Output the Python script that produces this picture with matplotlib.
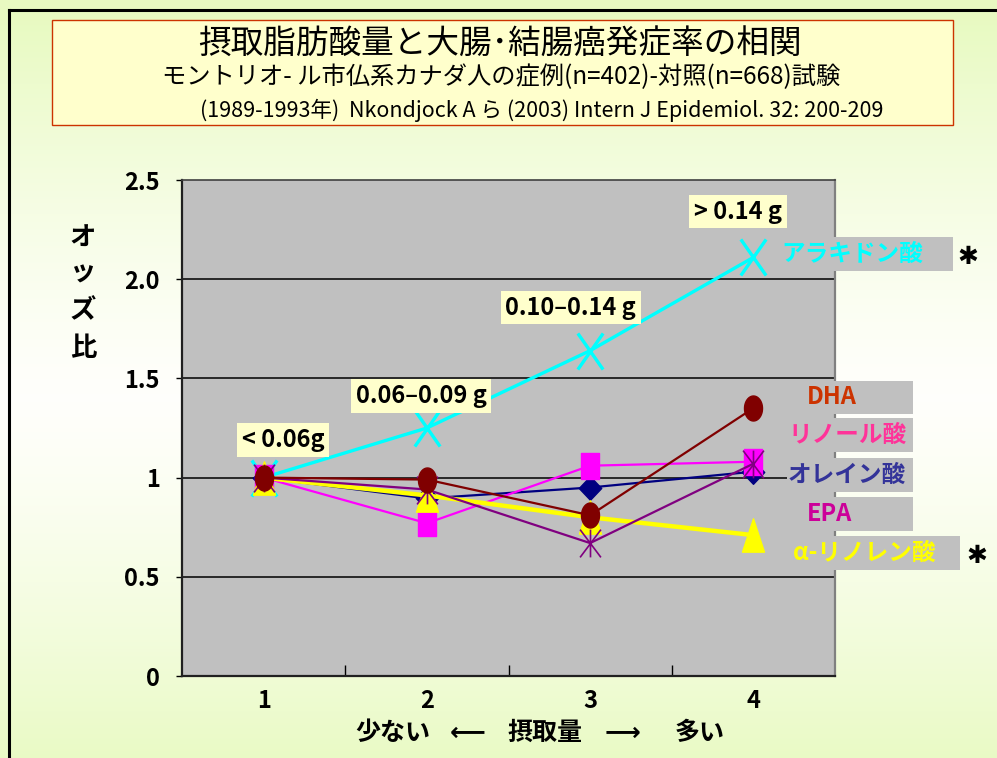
import matplotlib
matplotlib.use('Agg')
import matplotlib.pyplot as plt
import numpy as np
from matplotlib.patches import Rectangle
from matplotlib.path import Path

plt.rcParams['font.family'] = ['Noto Sans CJK JP', 'DejaVu Sans']
NUM_FONT = ['Liberation Sans Narrow', 'Noto Sans CJK JP', 'DejaVu Sans']

# data
levels = [1, 2, 3, 4]
level_ranges = ['< 0.06g', '0.06\u20130.09 g', '0.10\u20130.14 g', '> 0.14 g']
arachidonic = [1.0, 1.25, 1.64, 2.11]
dha = [1.0, 0.99, 0.81, 1.35]
linoleic = [1.0, 0.77, 1.06, 1.08]
oleic = [1.0, 0.895, 0.95, 1.03]
epa = [1.0, 0.94, 0.67, 1.07]
alpha_linolenic = [1.0, 0.91, 0.80, 0.71]
yticks = [0, 0.5, 1, 1.5, 2.0, 2.5]
ytick_labels = ['0', '0.5', '1', '1.5', '2.0', '2.5']

title = '摂取脂肪酸量と大腸･結腸癌発症率の相関'
subtitle = 'モントリオ- ル市仏系カナダ人の症例(n=402)-対照(n=668)試験'
source = '(1989-1993年)  Nkondjock A ら (2003) Intern J Epidemiol. 32: 200-209'

W, H = 997, 758
def fx(x):
    return x / W
def fy(y):
    return 1 - y / H

fig = plt.figure(figsize=(W / 100, H / 100), dpi=100)

# slide background: green at top/bottom, whitish in the middle
bg = fig.add_axes([0, 0, 1, 1], zorder=-10)
t = np.abs(np.linspace(-1, 1, 400) - 0.05)
t = np.clip(t, 0, 1) ** 1.3
green = np.array([0.91, 0.98, 0.76])
white = np.array([1.0, 1.0, 0.985])
grad = white[None, :] * (1 - t[:, None]) + green[None, :] * t[:, None]
bg.imshow(grad[:, None, :], aspect='auto', extent=[0, 1, 0, 1])
bg.plot([fx(9), fx(9)], [0, fy(10)], color='black', lw=2.2)
bg.plot([fx(9), 1], [fy(10), fy(10)], color='black', lw=2.2)
bg.set_xlim(0, 1)
bg.set_ylim(0, 1)
bg.axis('off')

# title box
fig.patches.append(Rectangle((fx(52), fy(125)), fx(953) - fx(52), fy(20) - fy(125),
                             transform=fig.transFigure, facecolor='#FFFFCC',
                             edgecolor='#CC3300', lw=1, zorder=1))
fig.text(fx(500), fy(45), title, ha='center', va='center', fontsize=23.5)
fig.text(fx(501), fy(77), subtitle, ha='center', va='center', fontsize=17.5)
fig.text(fx(542), fy(110), source, ha='center', va='center', fontsize=15.5)

ax = fig.add_axes([fx(182), fy(676), fx(835) - fx(182), fy(180) - fy(676)])
ax.set_facecolor('#C0C0C0')
ax.set_xlim(0.5, 4.5)
ax.set_ylim(0, 2.5)
for g in [0.5, 1.0, 1.5, 2.0]:
    ax.axhline(g, color='black', lw=1.1, zorder=1)
for s in ['left', 'bottom']:
    ax.spines[s].set_color('#202020')
    ax.spines[s].set_linewidth(1.6)
ax.spines['top'].set_color('#404040')
ax.spines['top'].set_linewidth(1.2)
ax.spines['right'].set_color('#808080')
ax.spines['right'].set_linewidth(1.6)

ax.set_yticks(yticks)
ax.set_yticklabels(ytick_labels, fontweight='bold', fontsize=17, family=NUM_FONT)
ax.set_xticks(levels)
ax.set_xticklabels([str(v) for v in levels], fontweight='bold', fontsize=17, family=NUM_FONT)
ax.set_xticks([1.5, 2.5, 3.5], minor=True)
ax.tick_params(axis='y', direction='out', length=4, width=1, pad=12)
ax.tick_params(axis='x', which='major', length=0, pad=9)
ax.tick_params(axis='x', which='minor', direction='in', length=8, width=1)

# custom marker shapes
th = np.linspace(0, 2 * np.pi, 60)
ellipse = Path(np.column_stack([0.72 * np.cos(th), np.sin(th)]), closed=True)
tall_square = Path([(-0.7, -1), (0.7, -1), (0.7, 1), (-0.7, 1), (-0.7, -1)], closed=True)
diamond = Path([(0, -1), (0.95, 0), (0, 1), (-0.95, 0), (0, -1)], closed=True)
triangle = Path([(0, 1), (0.66, -1), (-0.66, -1), (0, 1)], closed=True)
tall_x = Path([(-0.7, -1), (0.7, 1), (-0.7, 1), (0.7, -1)],
              [Path.MOVETO, Path.LINETO, Path.MOVETO, Path.LINETO])
star = Path([(0, -1), (0, 1), (-0.75, -1), (0.75, 1), (-0.75, 1), (0.75, -1)],
            [Path.MOVETO, Path.LINETO, Path.MOVETO, Path.LINETO, Path.MOVETO, Path.LINETO])

ax.plot(levels, arachidonic, color='#00FFFF', lw=2.4, marker=tall_x, markersize=26,
        markeredgewidth=2.4, markerfacecolor='none', zorder=3)
ax.plot(levels, oleic, color='#000080', lw=1.6, marker=diamond, markersize=17,
        markerfacecolor='#000080', markeredgecolor='#000080', zorder=4)
ax.plot(levels, linoleic, color='#FF00FF', lw=1.6, marker=tall_square, markersize=19,
        markerfacecolor='#FF00FF', markeredgecolor='#FF00FF', zorder=5)
ax.plot(levels, alpha_linolenic, color='#FFFF00', lw=3.2, marker=triangle, markersize=24,
        markerfacecolor='#FFFF00', markeredgecolor='#FFFF00', zorder=6)
ax.plot(levels, epa, color='#800080', lw=1.6, marker=star, markersize=20,
        markeredgewidth=1.2, markeredgecolor='#800080', markerfacecolor='none', zorder=7)
ax.plot(levels, dha, color='#800000', lw=1.6, marker=ellipse, markersize=18,
        markerfacecolor='#800000', markeredgecolor='#800000', zorder=8)

# intake range labels above the arachidonic acid points
offsets = [(14, 27), (-4, 23), (-14, 31), (-11, 33)]
for lv, val, txt, off in zip(levels, arachidonic, level_ranges, offsets):
    ax.annotate(txt, xy=(lv, val), xytext=off, textcoords='offset points',
                ha='center', va='center', fontsize=17, fontweight='bold',
                family=NUM_FONT, zorder=10,
                bbox=dict(boxstyle='square,pad=0.2', facecolor='#FFFFCC', edgecolor='none'))

# series labels with grey boxes on the right
series_labels = [
    ('アラキドン酸', '#00FFFF', 770, 953, 237, 271, 781),
    ('DHA', '#CC3300', 787, 913, 381, 414, 807),
    ('リノール酸', '#FF3399', 787, 913, 418, 452, 788),
    ('オレイン酸', '#333399', 787, 913, 458, 492, 788),
    ('EPA', '#CC0099', 787, 913, 497, 531, 807),
    ('α-リノレン酸', '#FFFF00', 787, 960, 536, 570, 793),
]
for txt, col, x0, x1, y0, y1, tx in series_labels:
    fig.patches.append(Rectangle((fx(x0), fy(y1)), fx(x1) - fx(x0), fy(y0) - fy(y1),
                                 transform=fig.transFigure, facecolor='#C0C0C0',
                                 edgecolor='none', zorder=2))
    fig.text(fx(tx), fy((y0 + y1) / 2), txt, color=col, ha='left', va='center',
             fontsize=17, fontweight='bold', zorder=3)
fig.text(fx(968), fy(257), '✱', family='DejaVu Sans', ha='center', va='center', fontsize=18)
fig.text(fx(977), fy(556), '✱', family='DejaVu Sans', ha='center', va='center', fontsize=18)

# y label, stacked characters
for ch, yy in zip('オッズ比', [237, 273, 311, 349]):
    fig.text(fx(83), fy(yy), ch, ha='center', va='center', fontsize=19, fontweight='bold')

# x label
for part, xx in zip(['少ない', '\u27f5', '摂取量', '\u27f6', '多い'], [393, 468, 545, 622, 700]):
    fig.text(fx(xx), fy(733), part, ha='center', va='center', fontsize=18, fontweight='bold',
             family=['Noto Sans CJK JP', 'DejaVu Sans'])

fig.savefig('out.png', dpi=100)
